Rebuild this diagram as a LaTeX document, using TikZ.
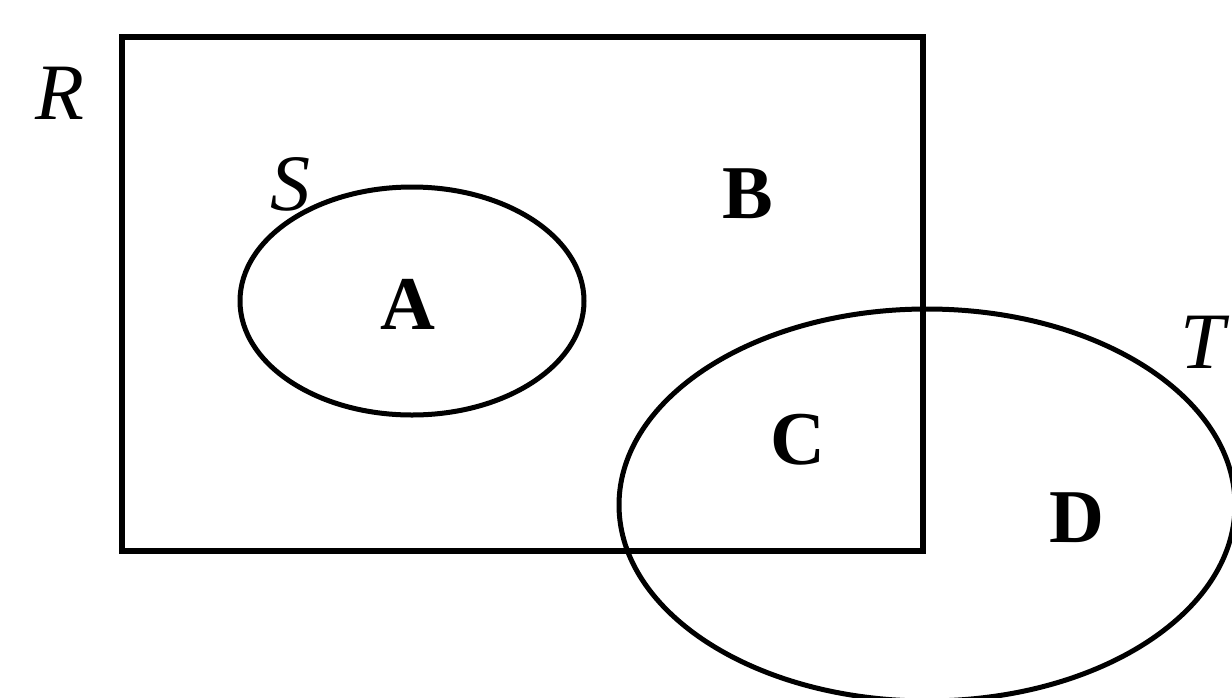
\documentclass[tikz,border=0pt]{standalone}
\usepackage{fontspec}
\setmainfont{Liberation Serif}
\begin{document}
\begin{tikzpicture}[x=1pt,y=-1pt]
\tikzset{setlabel/.style={font=\fontsize{80}{90}\selectfont\itshape, inner sep=0pt},
  regionlabel/.style={font=\fontsize{76}{86}\selectfont\bfseries, inner sep=0pt}}
\useasboundingbox (0,0) rectangle (1232,697);
\clip (0,0) rectangle (1232,697);
\draw[line width=6pt] (122,37) rectangle (923,551);
\draw[line width=5pt] (412,301) ellipse [x radius=172, y radius=114];
\draw[line width=5pt] (927,505) ellipse [x radius=308, y radius=196];
\node[setlabel] (r) at (60,93) {R};
\node[setlabel] (s) at (290,184) {S};
\node[setlabel] (t) at (1203,342) {T};
\node[regionlabel] (a) at (408,304) {A};
\node[regionlabel] (b) at (748,194) {B};
\node[regionlabel] (c) at (798,440) {C};
\node[regionlabel] (d) at (1077,518) {D};
\end{tikzpicture}
\end{document}
